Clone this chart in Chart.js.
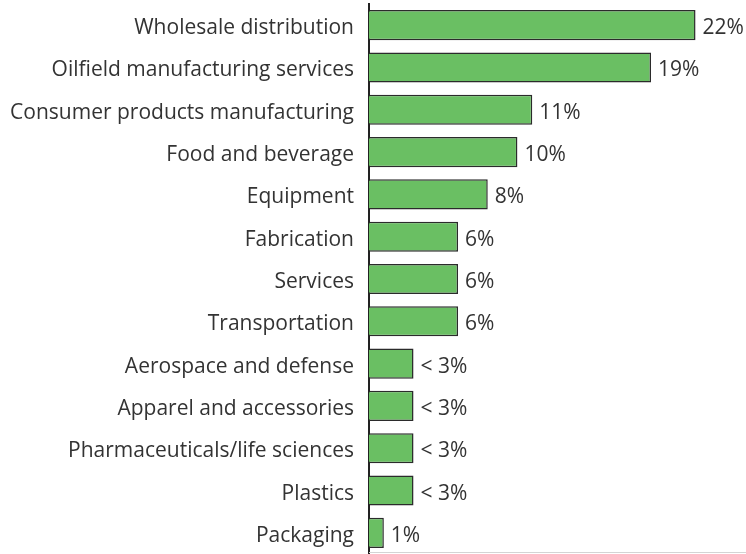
<!DOCTYPE html>
<html>
<head>
<meta charset="utf-8">
<script src="https://cdn.jsdelivr.net/npm/chart.js@4/dist/chart.umd.min.js"></script>
<style>
  body { margin: 0; background: #fff; }
  canvas { display: block; }
</style>
</head>
<body>
<canvas id="chart" width="746" height="554"></canvas>
<script>
// Industry share, largest first
const industries = [
  "Wholesale distribution",
  "Oilfield manufacturing services",
  "Consumer products manufacturing",
  "Food and beverage",
  "Equipment",
  "Fabrication",
  "Services",
  "Transportation",
  "Aerospace and defense",
  "Apparel and accessories",
  "Pharmaceuticals/life sciences",
  "Plastics",
  "Packaging"
];
const shares = [22, 19, 11, 10, 8, 6, 6, 6, 3, 3, 3, 3, 1];
const shareLabels = ["22%", "19%", "11%", "10%", "8%", "6%", "6%", "6%", "< 3%", "< 3%", "< 3%", "< 3%", "1%"];

const FONT = "'Open Sans', sans-serif";
const FONT_SIZE = 21;

// writes the percentage to the right of each bar
const barValueLabels = {
  id: "barValueLabels",
  afterDatasetsDraw(chart) {
    const ctx = chart.ctx;
    const meta = chart.getDatasetMeta(0);
    ctx.save();
    ctx.font = FONT_SIZE + "px " + FONT;
    ctx.fillStyle = "#333";
    ctx.textAlign = "left";
    ctx.textBaseline = "middle";
    meta.data.forEach((bar, i) => {
      ctx.fillText(shareLabels[i], bar.x + 7, bar.y + 3);
    });
    ctx.restore();
  }
};

// thin grey baseline along the bottom of the plot
const baseLine = {
  id: "baseLine",
  beforeDatasetsDraw(chart) {
    const { ctx, chartArea } = chart;
    ctx.save();
    ctx.strokeStyle = "#d4d4d4";
    ctx.lineWidth = 1;
    ctx.beginPath();
    ctx.moveTo(chartArea.left, chartArea.bottom - 1.5);
    ctx.lineTo(chartArea.right, chartArea.bottom - 1.5);
    ctx.stroke();
    ctx.restore();
  }
};

new Chart(document.getElementById("chart"), {
  type: "bar",
  data: {
    labels: industries,
    datasets: [{
      data: shares,
      backgroundColor: "#6abf63",
      borderColor: "#2b2b2b",
      borderWidth: 1.5,
      categoryPercentage: 0.8,
      barPercentage: 0.89
    }]
  },
  options: {
    indexAxis: "y",
    responsive: false,
    animation: false,
    layout: { padding: { top: 4, right: 0, bottom: 0, left: 0 } },
    plugins: {
      legend: { display: false },
      tooltip: { enabled: false }
    },
    scales: {
      x: {
        display: false,
        min: 0,
        max: 25.4
      },
      y: {
        afterFit(scale) {
          scale.width = 369;
          scale.paddingTop = 0;
          scale.paddingBottom = 0;
        },
        ticks: {
          color: "#333",
          padding: 0,
          labelOffset: 3,
          font: { family: FONT, size: FONT_SIZE }
        },
        grid: { display: false, drawTicks: true, tickLength: 15 },
        border: { display: true, color: "#222", width: 2 }
      }
    }
  },
  plugins: [baseLine, barValueLabels]
});
</script>
</body>
</html>
